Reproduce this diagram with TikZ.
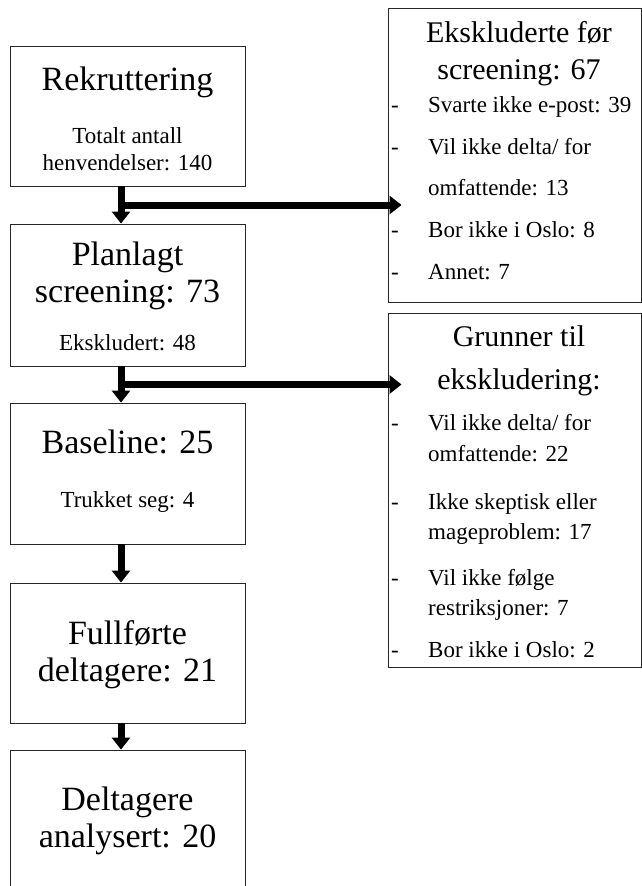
\documentclass[tikz,border=0pt]{standalone}
\usepackage{fontspec}
\setmainfont{Liberation Serif}
\usetikzlibrary{arrows.meta,calc,positioning}

\begin{document}
\begin{tikzpicture}[x=1pt,y=-1pt,
    box/.style={draw=black!85,line width=0.9pt,inner sep=0pt},
    big/.style={font=\fontsize{34}{40}\selectfont,anchor=base,inner sep=0pt},
    head/.style={font=\fontsize{30}{36}\selectfont,anchor=base,inner sep=0pt},
    small/.style={font=\fontsize{23}{27}\selectfont,anchor=base,inner sep=0pt},
    item/.style={font=\fontsize{23}{27}\selectfont,anchor=base west,inner sep=0pt},
    flow/.style={line width=7pt,-{Triangle[width=18pt,length=12pt]}}]
    \clip (0,0) rectangle (642,886);
    \useasboundingbox (0,0) rectangle (642,886);
    \node[box,minimum width=235pt,minimum height=140pt] (rekr) at (127.5,116) {};
    \node[box,minimum width=235pt,minimum height=142pt] (plan) at (127.5,295) {};
    \node[box,minimum width=235pt,minimum height=141pt] (base) at (127.5,473.5) {};
    \node[box,minimum width=235pt,minimum height=140pt] (full) at (127.5,653) {};
    \node[box,minimum width=235pt,minimum height=160pt] (anal) at (127.5,830) {};
    \node[box,minimum width=253pt,minimum height=294pt] (eksk) at (514.5,155) {};
    \node[box,minimum width=253pt,minimum height=354pt] (grun) at (514.5,490) {};
    \node[big] (rekr-t) at (127.5,90) {Rekruttering};
    \node[small] (rekr-a) at (127.5,143) {Totalt antall};
    \node[small] (rekr-b) at (127.5,170) {henvendelser: 140};
    \node[big] (plan-t) at (127.5,265) {Planlagt};
    \node[big] (plan-u) at (127.5,302) {screening: 73};
    \node[small] (plan-a) at (127.5,350) {Ekskludert: 48};
    \node[big] (base-t) at (127.5,453) {Baseline: 25};
    \node[small] (base-a) at (127.5,507) {Trukket seg: 4};
    \node[big] (full-t) at (127.5,644) {Fullførte};
    \node[big] (full-u) at (127.5,681) {deltagere: 21};
    \node[big] (anal-t) at (127.5,810) {Deltagere};
    \node[big] (anal-u) at (127.5,847) {analysert: 20};
    \node[head] (eksk-t) at (519,42) {Ekskluderte før};
    \node[head] (eksk-u) at (519,79) {screening: 67};
    \node[head] (grun-t) at (519,346) {Grunner til};
    \node[head] (grun-u) at (519,389) {ekskludering:};
    \foreach \y/\t [count=\i] in {112/Svarte ikke e-post: 39,154/{Vil ikke delta/ for},195/omfattende: 13,237/Bor ikke i Oslo: 8,279/Annet: 7}
      \node[item] (eksk-\i) at (428,\y) {\t};
    \foreach \y/\t [count=\i] in {430/{Vil ikke delta/ for},461/omfattende: 22,509/Ikke skeptisk eller,539/mageproblem: 17,585/Vil ikke følge,615/restriksjoner: 7,657/Bor ikke i Oslo: 2}
      \node[item] (grun-\i) at (428,\y) {\t};
    \foreach \y [count=\i] in {112,154,237,279,430,509,585,657}
      \node[item] (dash-\i) at (391,\y) {-};
    \coordinate (j1) at ([xshift=-6.5pt]$(rekr.south)!0.5!(plan.north)$);
    \coordinate (j2) at ([xshift=-6.5pt]$(plan.south)!0.5!(base.north)$);
    \draw[flow] ([xshift=-6.5pt]rekr.south) -- ([xshift=-6.5pt]plan.north);
    \draw[flow] (j1) -- ([xshift=14pt]j1 -| eksk.west);
    \draw[flow] ([xshift=-6.5pt]plan.south) -- ([xshift=-6.5pt]base.north);
    \draw[flow] (j2) -- ([xshift=14pt]j2 -| grun.west);
    \draw[flow] ([xshift=-6.5pt]base.south) -- ([xshift=-6.5pt]full.north);
    \draw[flow] ([xshift=-6.5pt]full.south) -- ([xshift=-6.5pt]anal.north);
\end{tikzpicture}
\end{document}
